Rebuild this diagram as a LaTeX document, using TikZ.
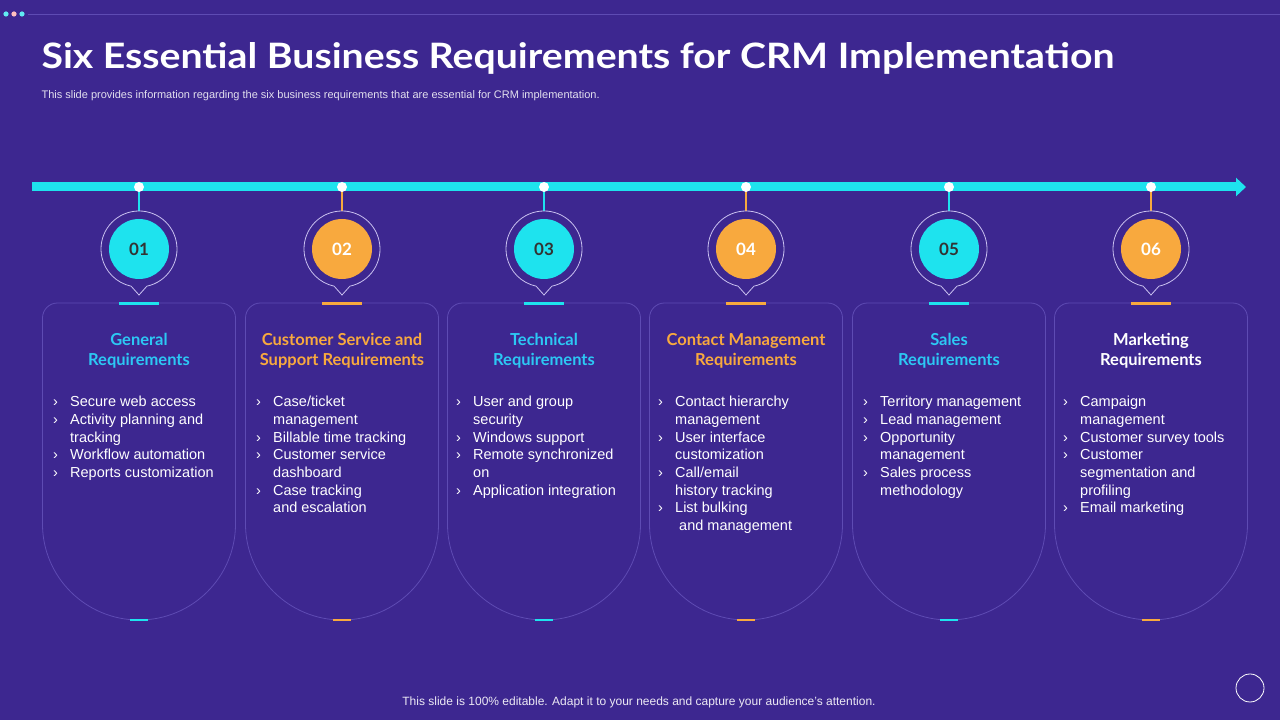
\documentclass[tikz,border=0pt]{standalone}
\usepackage{fontspec}
\setmainfont{Liberation Sans}
\newfontfamily\headfont{Lato}
\definecolor{bg}{HTML}{3D2790}
\definecolor{cy}{HTML}{1EE3EE}
\definecolor{cyt}{HTML}{2CC8F4}
\definecolor{orng}{HTML}{F8A93E}
\definecolor{cardline}{HTML}{5E4BB3}
\definecolor{pinline}{HTML}{C9C0F0}
\usetikzlibrary{arrows.meta}
\tikzset{
 cardbox/.style={draw=cardline,line width=0.8pt},
 pinring/.style={draw=pinline,line width=0.8pt},
 ctitle/.style={font=\headfont\bfseries\fontsize{16.5}{20}\selectfont,align=center,anchor=center},
 clist/.style={anchor=north west,inner sep=0pt,text=white,font=\fontsize{14.5}{17.7}\selectfont,align=left},
}
\newcommand{\bl}{\makebox[17pt][l]{›}}
\newcommand{\ind}{\hspace*{17pt}}
\newcommand{\crmcard}[6]{%
 \draw[cardbox] (#1-96.5,196) -- (#1-96.5,402) arc(180:90:15) -- (#1+81.5,417) arc(90:0:15) -- (#1+96.5,196) arc(0:-180:96.5 and 96) -- cycle;
 \draw[#2,line width=1.2pt] (#1,533) -- (#1,509);
 \fill[white] (#1,533) circle (5);
 \draw[pinring] (#1,471) ++(-78:38) arc(-78:258:38) -- (#1,425) -- cycle;
 \node[circle,fill=#2,minimum size=60pt,inner sep=0pt,text=#4,font=\headfont\bfseries\fontsize{17}{20}\selectfont] (n#3) at (#1,471) {#3};
 \draw[#2,line width=3pt] (#1-20,416) -- (#1+20,416);
 \draw[#2,line width=2pt] (#1-9,100) -- (#1+9,100);
 \node[ctitle,text=#5] (t#3) at (#1,369) {#6};
}
\begin{document}
\begin{tikzpicture}[x=1pt,y=1pt]
\fill[bg] (0,0) rectangle (1280,720);
\useasboundingbox (0,0) rectangle (1280,720);
\fill[cy!70!white] (6,706) circle (2.6);
\fill[pink] (14,706) circle (2.6);
\fill[cy!70!white] (22,706) circle (2.6);
\draw[cardline,line width=0.8pt] (28,706) -- (1280,706);
\node[anchor=west,text=white,font=\headfont\bfseries\fontsize{35}{40}\selectfont] (title) at (38,662) {\scalebox{1.12}[1]{Six Essential Business Requirements for CRM Implementation}};
\node[anchor=west,text=white!85!bg,font=\fontsize{11}{12}\selectfont] (sub) at (38,624) {This slide provides information regarding the six business requirements that are essential for CRM implementation.};
\draw[cy,line width=9pt,-{Triangle[length=10pt,width=18pt]}] (32,533) -- (1246,533);
\crmcard{139}{cy}{01}{black!80}{cyt}{General\\Requirements}
\crmcard{342}{orng}{02}{white}{orng}{Customer Service and\\Support Requirements}
\crmcard{544}{cy}{03}{black!80}{cyt}{Technical\\Requirements}
\crmcard{746}{orng}{04}{white}{orng}{Contact Management\\Requirements}
\crmcard{949}{cy}{05}{black!80}{cyt}{Sales\\Requirements}
\crmcard{1151}{orng}{06}{white}{white}{Marketing\\Requirements}
\node[clist] (l1) at (139-86,324) {\bl Secure web access\\\bl Activity planning and\\\ind tracking\\\bl Workflow automation\\\bl Reports customization};
\node[clist] (l2) at (342-86,324) {\bl Case/ticket\\\ind management\\\bl Billable time tracking\\\bl Customer service\\\ind dashboard\\\bl Case tracking\\\ind and escalation};
\node[clist] (l3) at (544-88,324) {\bl User and group\\\ind security\\\bl Windows support\\\bl Remote synchronized\\\ind on\\\bl Application integration};
\node[clist] (l4) at (746-88,324) {\bl Contact hierarchy\\\ind management\\\bl User interface\\\ind customization\\\bl Call/email\\\ind history tracking\\\bl List bulking\\\ind\ and management};
\node[clist] (l5) at (949-86,324) {\bl Territory management\\\bl Lead management\\\bl Opportunity\\\ind management\\\bl Sales process\\\ind methodology};
\node[clist] (l6) at (1151-88,324) {\bl Campaign\\\ind management\\\bl Customer survey tools\\\bl Customer\\\ind segmentation and\\\ind profiling\\\bl Email marketing};
\node[text=white!90!bg,font=\fontsize{12}{14}\selectfont] (foot) at (639,18) {This slide is 100\% editable. Adapt it to your needs and capture your audience's attention.};
\draw[white,line width=0.8pt] (1250,32) circle (14);
\end{tikzpicture}
\end{document}
